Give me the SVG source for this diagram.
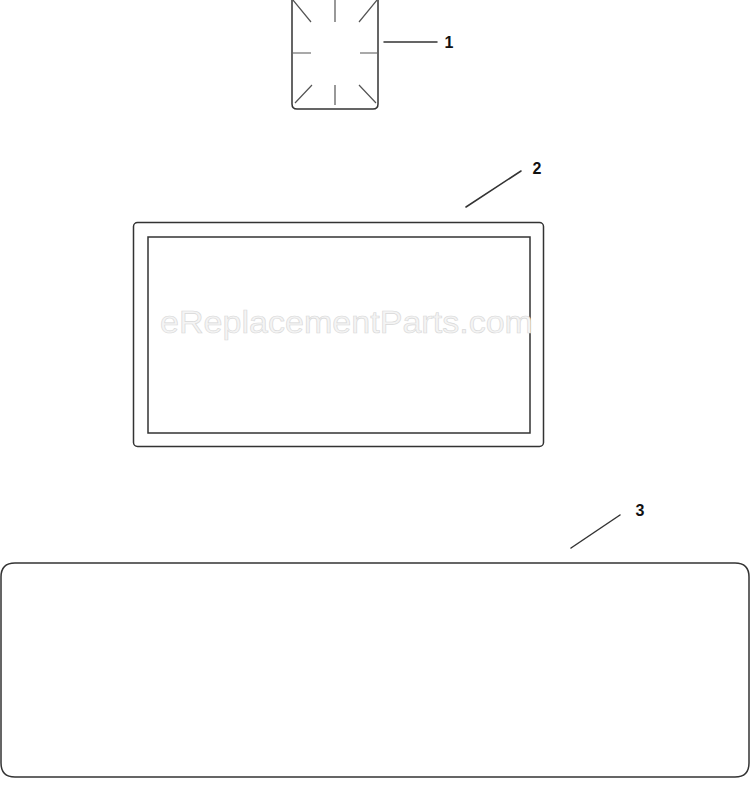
<svg xmlns="http://www.w3.org/2000/svg" width="750" height="796" viewBox="0 0 750 796">
<style>
.ln{fill:none;stroke:#333;stroke-width:1.5;stroke-linecap:round}
.tk{fill:none;stroke:#555;stroke-width:1.2}
.lab{font-family:"Liberation Sans",Arial,sans-serif;font-weight:bold;font-size:16px;fill:#111}
.wm{font-family:"Liberation Sans",Arial,sans-serif;font-size:31px;fill:#f4f4f4;stroke:#d8d8d8;stroke-width:0.6}
</style>
<rect width="750" height="796" fill="#fff"/>
<g id="part1">
<path class="ln" d="M292,0 V104 Q292,109 297,109 H373 Q378,109 378,104 V0"/>
<path class="tk" d="M293,0 L311,22 M335,0 V22 M377,0 L359,22 M293,53 H311 M360,53 H377 M312,85 L295,103 M335,85 V105 M359,85 L376,103"/>
</g>
<g id="part2">
<rect class="ln" x="133.5" y="222.5" width="410" height="224" rx="4"/>
<rect class="ln" x="148" y="237" width="382" height="196"/>
</g>
<g id="part3">
<path class="ln" d="M15,563 H735 Q749,563 749,577 V763 Q749,777 735,777 H15 Q1,777 1,763 V577 Q1,563 15,563 Z"/>
</g>
<text class="wm" x="160" y="333" textLength="373" lengthAdjust="spacingAndGlyphs">eReplacementParts.com</text>
<g id="connectors">
<line class="ln" x1="384" y1="42" x2="437" y2="42"/>
<line class="ln" x1="466" y1="207" x2="521" y2="171"/>
<line class="ln" x1="571" y1="548" x2="620" y2="515"/>
</g>
<g id="labels">
<text class="lab" x="449" y="48" text-anchor="middle">1</text>
<text class="lab" x="537" y="174" text-anchor="middle">2</text>
<text class="lab" x="640" y="516" text-anchor="middle">3</text>
</g>
</svg>
